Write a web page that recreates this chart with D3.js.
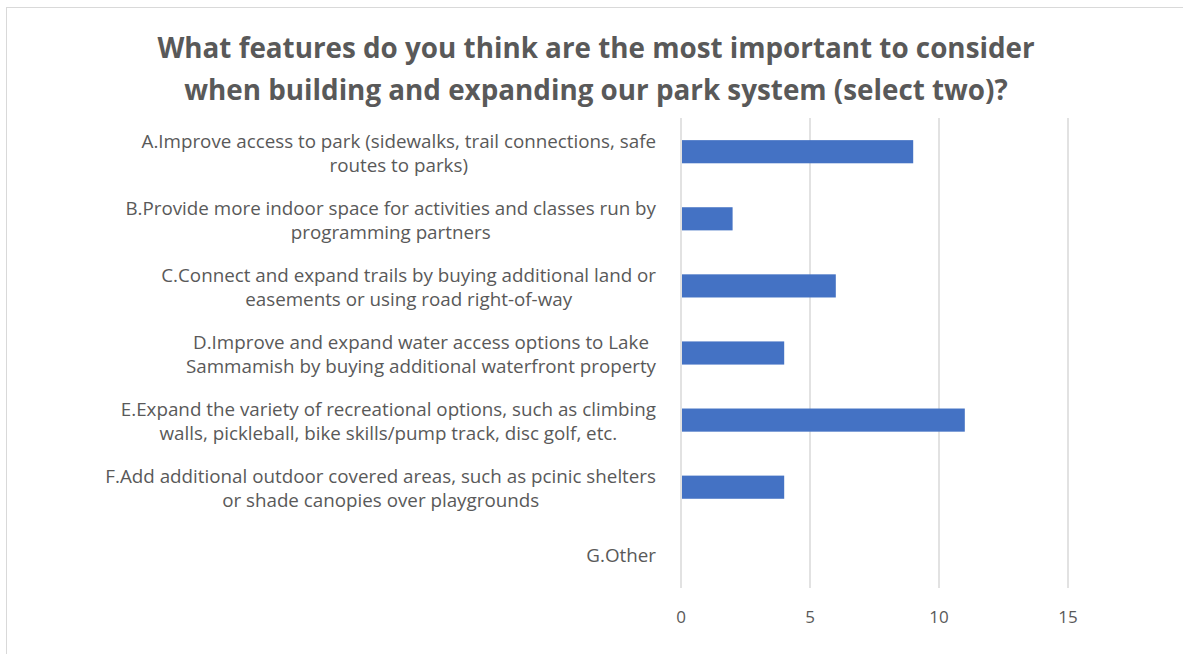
<!DOCTYPE html>
<html>
<head>
<meta charset="utf-8">
<script src="https://cdn.jsdelivr.net/npm/d3@7"></script>
<style>
  body { margin: 0; background: #fff; }
  svg text { fill: #595959; }
</style>
</head>
<body>
<svg id="chart"></svg>
<script>
var width = 1183,
    height = 654;

var categories = [
    "A.Improve access to park (sidewalks, trail connections, safe\nroutes to parks)",
    "B.Provide more indoor space for activities and classes run by\nprogramming partners",
    "C.Connect and expand trails by buying additional land or\neasements or using road right-of-way",
    "D.Improve and expand water access options to Lake\nSammamish by buying additional waterfront property",
    "E.Expand the variety of recreational options, such as climbing\nwalls, pickleball, bike skills/pump track, disc golf, etc.",
    "F.Add additional outdoor covered areas, such as pcinic shelters\nor shade canopies over playgrounds",
    "G.Other"
];
var values = [9, 2, 6, 4, 11, 4, 0];
var ticks = [0, 5, 10, 15];
var titleLines = [
    "What features do you think are the most important to consider",
    "when building and expanding our park system (select two)?"
];

var font = "'Open Sans', sans-serif";

var svg = d3.select("#chart")
    .attr("width", width)
    .attr("height", height);

// frame
svg.append("rect")
    .attr("x", 6.5).attr("y", 7.5)
    .attr("width", 1190).attr("height", 660)
    .attr("fill", "#fff")
    .attr("stroke", "#d9d9d9")
    .attr("stroke-width", 1);

var x = d3.scaleLinear()
    .domain([0, 15])
    .range([681, 1068]);

var y = d3.scaleBand()
    .domain(d3.range(categories.length))
    .range([118, 588])
    .paddingInner(0.655)
    .paddingOuter(0.33);

var band = d3.scaleBand()
    .domain(d3.range(categories.length))
    .range([118, 588]);

// title
svg.append("text")
    .attr("text-anchor", "middle")
    .attr("font-family", font)
    .attr("font-weight", "bold")
    .attr("font-size", 27.8)
    .selectAll("tspan")
    .data(titleLines)
    .enter().append("tspan")
    .attr("x", 596)
    .attr("y", function (d, i) { return 58 + i * 42; })
    .text(function (d) { return d; });

// gridlines
svg.append("g")
    .selectAll("line")
    .data(ticks)
    .enter().append("line")
    .attr("x1", function (d) { return x(d); })
    .attr("x2", function (d) { return x(d); })
    .attr("y1", 118)
    .attr("y2", 588)
    .attr("stroke", "#d9d9d9")
    .attr("stroke-width", 1.5);

// bars
svg.append("g")
    .selectAll("rect")
    .data(values)
    .enter().append("rect")
    .attr("x", x(0) + 1)
    .attr("y", function (d, i) { return y(i); })
    .attr("width", function (d) { return Math.max(0, x(d) - x(0) - 1); })
    .attr("height", y.bandwidth())
    .attr("fill", "#4472c4");

// x tick labels
svg.append("g")
    .selectAll("text")
    .data(ticks)
    .enter().append("text")
    .attr("x", function (d) { return x(d); })
    .attr("y", 623)
    .attr("text-anchor", "middle")
    .attr("font-family", font)
    .attr("font-size", 17)
    .text(function (d) { return d; });

// category labels
var labels = svg.append("g")
    .selectAll("text")
    .data(categories)
    .enter().append("text")
    .attr("text-anchor", "middle")
    .attr("font-family", font)
    .attr("font-size", 18.8);

labels.each(function (d, i) {
    var lines = d.split("\n");
    var cy = band(i) + band.bandwidth() / 2;
    var t = d3.select(this);
    lines.forEach(function (line, j) {
        t.append("tspan")
            .attr("y", cy + (j - (lines.length - 1) / 2) * 24 + 8)
            .text(line);
    });
    // right-align the block, centre each line within it
    var w = d3.max(t.selectAll("tspan").nodes(), function (n) { return n.getComputedTextLength(); });
    t.selectAll("tspan").attr("x", 656 - w / 2);
});
</script>
</body>
</html>
